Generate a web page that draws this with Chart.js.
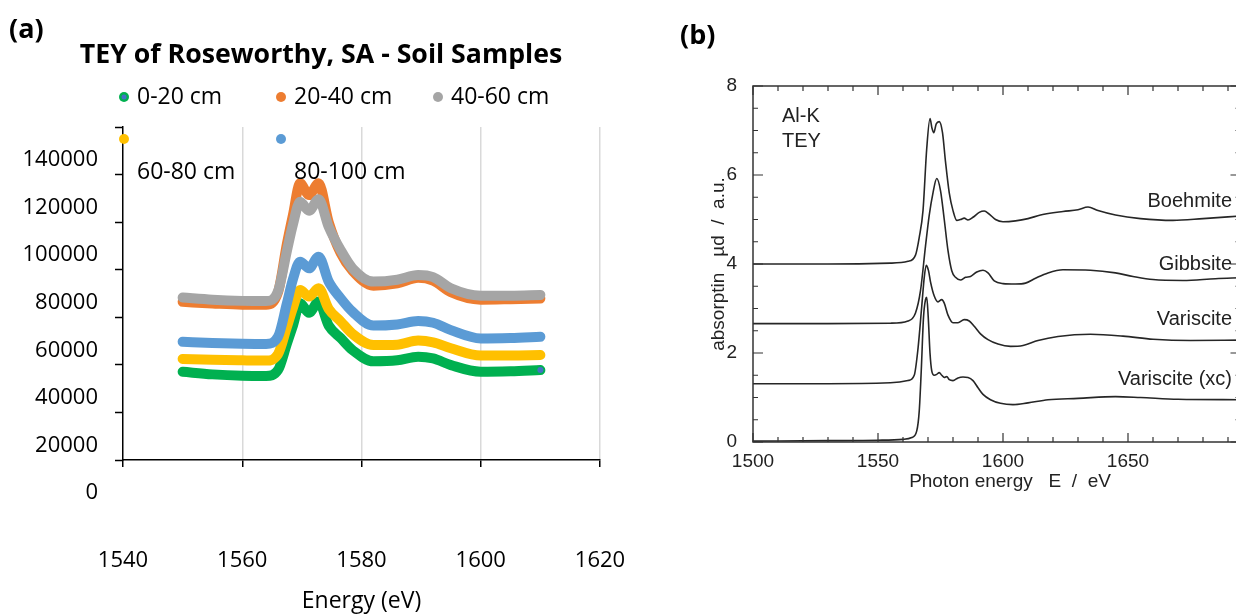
<!DOCTYPE html>
<html>
<head>
<meta charset="utf-8">
<script src="https://cdn.jsdelivr.net/npm/chart.js@4.4.1/dist/chart.umd.min.js"></script>
<style>
  html, body { margin: 0; padding: 0; background: #fff; overflow: hidden; width: 1236px; height: 615px; }
  .panel { position: absolute; top: 0; }
  #wrap_a { left: 0; width: 644px; height: 615px; }
  #wrap_b { left: 650px; width: 640px; height: 615px; }
</style>
</head>
<body>
<div class="panel" id="wrap_a"><canvas id="chart_a"></canvas></div>
<div class="panel" id="wrap_b"><canvas id="chart_b"></canvas></div>
<script>
// ---- panel (a): TEY of Roseworthy soil samples ----
const energyA = [1550, 1555, 1560, 1564, 1566, 1567.5, 1568.5, 1569.7, 1571.2, 1572.8, 1574.5, 1576.5, 1578.5, 1582, 1586, 1589.5, 1592, 1595, 1600, 1605, 1610];
const soil0_20 = [37100, 36000, 35400, 35300, 37800, 49000, 56500, 65900, 61900, 66600, 56500, 51300, 46200, 41500, 41900, 43400, 42700, 39900, 37100, 37300, 37800];
const soil20_40 = [66500, 65800, 65300, 65300, 70500, 91000, 103000, 116300, 111400, 116300, 100000, 87000, 79500, 73300, 74300, 76600, 75400, 70500, 67400, 67600, 67900];
const soil40_60 = [68300, 67400, 66900, 66800, 71000, 88000, 99000, 108600, 104800, 109600, 98000, 88300, 80600, 75000, 75800, 77800, 76900, 72200, 69100, 69100, 69400];
const soil60_80 = [42500, 42100, 41900, 41800, 44500, 56000, 64000, 71500, 68700, 72200, 63500, 58300, 53000, 48300, 48500, 50200, 49500, 47000, 43900, 43900, 44100];
const soil80_100 = [49700, 49200, 48900, 48800, 51800, 66000, 76000, 83400, 80600, 85500, 75000, 68000, 62300, 56500, 57000, 58400, 57700, 54600, 51100, 51300, 51800];
const depthLabels = ["0-20 cm", "20-40 cm", "40-60 cm", "60-80 cm", "80-100 cm"];
const depthColors = ["#00b050", "#ed7d31", "#a5a5a5", "#ffc000", "#5b9bd5"];
const depthValues = [soil0_20, soil20_40, soil40_60, soil60_80, soil80_100];
const energyTicksA = [1540, 1560, 1580, 1600, 1620];
const countTicksA = [0, 20000, 40000, 60000, 80000, 100000, 120000, 140000];

// ---- panel (b): Al-K reference spectra ----
const boehmiteE = [1500, 1530, 1555, 1562, 1565, 1566.5, 1568, 1569.5, 1570.8, 1571.6, 1572.3, 1573.3, 1574.5, 1575.8, 1577, 1578.5, 1580, 1581.5, 1583, 1584.5, 1586, 1588, 1590.5, 1592.5, 1594.5, 1597, 1600, 1605, 1610, 1615, 1624, 1630, 1634, 1638, 1645, 1655, 1668, 1680, 1695];
const boehmiteY = [4.0, 4.0, 4.02, 4.06, 4.2, 4.6, 5.2, 6.6, 7.27, 7.05, 6.95, 7.15, 7.2, 6.95, 6.3, 5.6, 5.2, 4.98, 5.0, 5.03, 4.99, 5.05, 5.16, 5.19, 5.12, 5.0, 4.95, 4.97, 5.02, 5.1, 5.18, 5.22, 5.28, 5.2, 5.1, 5.02, 4.98, 5.02, 5.08];
const gibbsiteE = [1500, 1530, 1555, 1562, 1565, 1567, 1569, 1570.5, 1572, 1573.5, 1575, 1576.5, 1578, 1579.5, 1581, 1583, 1585, 1587, 1589.5, 1592, 1594, 1596.5, 1600, 1605, 1609, 1613, 1618, 1624, 1635, 1645, 1652, 1660, 1672, 1685, 1695];
const gibbsiteY = [2.66, 2.66, 2.67, 2.72, 2.9, 3.4, 4.4, 5.1, 5.6, 5.92, 5.65, 5.0, 4.3, 3.85, 3.7, 3.64, 3.7, 3.72, 3.82, 3.86, 3.8, 3.62, 3.56, 3.55, 3.57, 3.68, 3.8, 3.87, 3.86, 3.8, 3.72, 3.65, 3.63, 3.67, 3.69];
const variscE = [1500, 1530, 1555, 1562, 1564.5, 1566, 1567.5, 1568.5, 1569.3, 1570.2, 1571, 1572.5, 1574, 1575.5, 1576.5, 1578, 1580, 1582, 1584.5, 1586.5, 1588.5, 1591, 1594, 1598, 1603, 1608, 1614, 1622, 1635, 1648, 1660, 1675, 1695];
const variscY = [1.31, 1.31, 1.33, 1.38, 1.5, 2.1, 3.05, 3.7, 3.97, 3.85, 3.6, 3.28, 3.15, 3.2, 3.12, 2.85, 2.68, 2.68, 2.75, 2.72, 2.6, 2.43, 2.3, 2.2, 2.15, 2.17, 2.28, 2.37, 2.42, 2.38, 2.31, 2.28, 2.29];
const variscXcE = [1500, 1530, 1550, 1560, 1563.5, 1565.5, 1566.5, 1567.3, 1568.2, 1569, 1569.5, 1570.1, 1570.8, 1571.5, 1572.5, 1573.5, 1574.5, 1575.5, 1576.5, 1577.5, 1578.5, 1580, 1582, 1584, 1586, 1588, 1590, 1592, 1595, 1599, 1604, 1610, 1618, 1630, 1645, 1655, 1670, 1695];
const variscXcY = [0.02, 0.03, 0.04, 0.06, 0.1, 0.25, 0.7, 1.6, 2.8, 3.2, 3.25, 2.8, 2.0, 1.6, 1.5, 1.52, 1.56, 1.5, 1.45, 1.47, 1.4, 1.38, 1.44, 1.46, 1.45, 1.38, 1.22, 1.07, 0.95, 0.87, 0.84, 0.88, 0.95, 0.98, 1.02, 1.0, 0.96, 0.95];
const mineralLabels = ["Boehmite", "Gibbsite", "Variscite", "Variscite (xc)"];
const mineralLabelY = [5.4, 4.0, 2.75, 1.4];
const energyTicksB = [1500, 1550, 1600, 1650];

const fontA = "'Open Sans', sans-serif";
const fontB = "'Liberation Sans', Arial, sans-serif";
const markBlue = "#4472c4";

function points(xs, ys) {
  return xs.map((x, i) => ({ x: x, y: ys[i] }));
}

const overlayA = {
  id: "overlayA",
  afterDraw(chart) {
    const c = chart.ctx;
    c.save();
    c.fillStyle = "#000";
    c.textBaseline = "middle";
    c.textAlign = "left";
    c.font = "bold 27px " + fontA;
    c.fillText("(a)", 9, 30);
    c.textAlign = "center";
    c.font = "bold 26.7px " + fontA;
    c.fillText("TEY of Roseworthy, SA - Soil Samples", 321, 55);
    // legend: three columns, second row text sits lower than its markers
    c.font = "23px " + fontA;
    c.textAlign = "left";
    depthLabels.forEach((lab, i) => {
      const col = i % 3, row = Math.floor(i / 3);
      const mx = 124 + col * 157;
      const my = 97 + row * 42;
      const ty = row === 0 ? my : my + 33;
      c.beginPath();
      c.arc(mx, my, 5, 0, Math.PI * 2);
      c.fillStyle = depthColors[i];
      c.fill();
      if (i === 0) {
        c.beginPath();
        c.arc(mx, my, 2.5, 0, Math.PI * 2);
        c.fillStyle = markBlue;
        c.fill();
      }
      c.fillStyle = "#000";
      c.fillText(lab, mx + 13, ty);
    });
    c.restore();
  }
};

new Chart(document.getElementById("chart_a"), {
  type: "line",
  data: {
    datasets: depthLabels.map((lab, i) => ({
      label: lab,
      data: points(energyA, depthValues[i]),
      borderColor: depthColors[i],
      backgroundColor: depthColors[i],
      borderWidth: 10,
      borderCapStyle: "round",
      borderJoinStyle: "round",
      // the 0-20 cm series ends in a small blue marker
      pointRadius: (ctx) => (i === 0 && ctx.dataIndex === energyA.length - 1 ? 3 : 0),
      pointBackgroundColor: markBlue,
      pointBorderWidth: 0,
      cubicInterpolationMode: "monotone",
      fill: false,
      order: 5 - i,
    })),
  },
  options: {
    responsive: true,
    maintainAspectRatio: false,
    animation: false,
    layout: { padding: { left: 0, right: 44, top: 127, bottom: 0 } },
    plugins: { legend: { display: false }, tooltip: { enabled: false } },
    scales: {
      x: {
        type: "linear",
        min: 1540,
        max: 1620,
        afterBuildTicks: (s) => { s.ticks = energyTicksA.map((v) => ({ value: v })); },
        afterFit: (s) => { s.height = 155; s.paddingLeft = 0; s.paddingRight = 0; },
        ticks: { padding: 81, color: "#000", font: { family: fontA, size: 22 }, callback: (v) => String(v) },
        grid: {
          color: (ctx) => (ctx.index === 0 ? "rgba(0,0,0,0)" : "#d9d9d9"),
          lineWidth: 1.5,
          tickColor: "#000",
          tickWidth: 1.5,
          tickLength: 7,
        },
        border: { color: "#000", width: 1.5 },
        title: {
          display: true,
          text: "Energy (eV)",
          color: "#000",
          font: { family: fontA, size: 23 },
          padding: { top: 0, bottom: 0 },
        },
      },
      y: {
        min: 0,
        max: 140000,
        afterBuildTicks: (s) => { s.ticks = countTicksA.map((v) => ({ value: v })); },
        afterFit: (s) => { s.width = 123; s.paddingTop = 0; s.paddingBottom = 0; },
        ticks: { padding: 17, labelOffset: 33, color: "#000", font: { family: fontA, size: 22 }, callback: (v) => String(v) },
        grid: { drawOnChartArea: false, tickColor: "#000", tickWidth: 1.5, tickLength: 8 },
        border: { color: "#000", width: 1.5 },
      },
    },
  },
  plugins: [overlayA],
});

const overlayB = {
  id: "overlayB",
  afterDraw(chart) {
    const c = chart.ctx;
    const a = chart.chartArea;
    const xs = chart.scales.x, ys = chart.scales.y;
    c.save();
    c.strokeStyle = "#333";
    c.lineWidth = 1.5;
    c.strokeRect(a.left, a.top, a.right - a.left, a.bottom - a.top);
    c.lineWidth = 1.2;
    c.beginPath();
    for (let v = 1500; v <= 1695; v += 10) {
      const px = xs.getPixelForValue(v);
      const len = v % 50 === 0 ? 9 : 5;
      c.moveTo(px, a.top); c.lineTo(px, a.top + len);
      c.moveTo(px, a.bottom); c.lineTo(px, a.bottom - len);
    }
    for (let v = 0; v <= 8; v += 0.5) {
      const py = ys.getPixelForValue(v);
      const len = v % 2 === 0 ? 10 : 5;
      c.moveTo(a.left, py); c.lineTo(a.left + len, py);
      c.moveTo(a.right, py); c.lineTo(a.right - len, py);
    }
    c.stroke();
    c.fillStyle = "#222";
    c.textBaseline = "middle";
    c.textAlign = "left";
    c.font = "20px " + fontB;
    c.fillText("Al-K", a.left + 29, 116);
    c.fillText("TEY", a.left + 29, 141);
    c.textAlign = "right";
    c.font = "20px " + fontB;
    mineralLabels.forEach((lab, i) => {
      c.fillText(lab, 582, ys.getPixelForValue(mineralLabelY[i]));
    });
    c.textAlign = "center";
    c.font = "19px " + fontB;
    c.fillText("Photon energy   E  /  eV", 360, 482);
    c.fillStyle = "#000";
    c.textAlign = "left";
    c.font = "bold 27px " + fontA;
    c.fillText("(b)", 30, 36);
    c.restore();
  }
};

const spectraB = [[boehmiteE, boehmiteY], [gibbsiteE, gibbsiteY], [variscE, variscY], [variscXcE, variscXcY]];

new Chart(document.getElementById("chart_b"), {
  type: "line",
  data: {
    datasets: spectraB.map((s, i) => ({
      label: mineralLabels[i],
      data: points(s[0], s[1]),
      borderColor: "#262626",
      borderWidth: 1.6,
      pointRadius: 0,
      cubicInterpolationMode: "monotone",
      fill: false,
    })),
  },
  options: {
    responsive: true,
    maintainAspectRatio: false,
    animation: false,
    layout: { padding: { left: 0, right: 49.5, top: 86, bottom: 0 } },
    plugins: { legend: { display: false }, tooltip: { enabled: false } },
    scales: {
      x: {
        type: "linear",
        min: 1500,
        max: 1695,
        afterBuildTicks: (s) => { s.ticks = energyTicksB.map((v) => ({ value: v })); },
        afterFit: (s) => { s.height = 173; s.paddingLeft = 0; s.paddingRight = 0; },
        ticks: { padding: 0, color: "#222", font: { family: fontB, size: 19 }, callback: (v) => String(v) },
        grid: { display: false },
        border: { display: false },
      },
      y: {
        min: 0,
        max: 8,
        afterFit: (s) => { s.width = 103; s.paddingTop = 0; s.paddingBottom = 0; },
        ticks: { stepSize: 2, padding: 8, color: "#222", font: { family: fontB, size: 19 } },
        grid: { display: false },
        border: { display: false },
        title: {
          display: true,
          text: "absorptin   \u00b5d  /  a.u.",
          color: "#222",
          font: { family: fontB, size: 19 },
          padding: { top: 57, bottom: 0 },
        },
      },
    },
  },
  plugins: [overlayB],
});
</script>
</body>
</html>
